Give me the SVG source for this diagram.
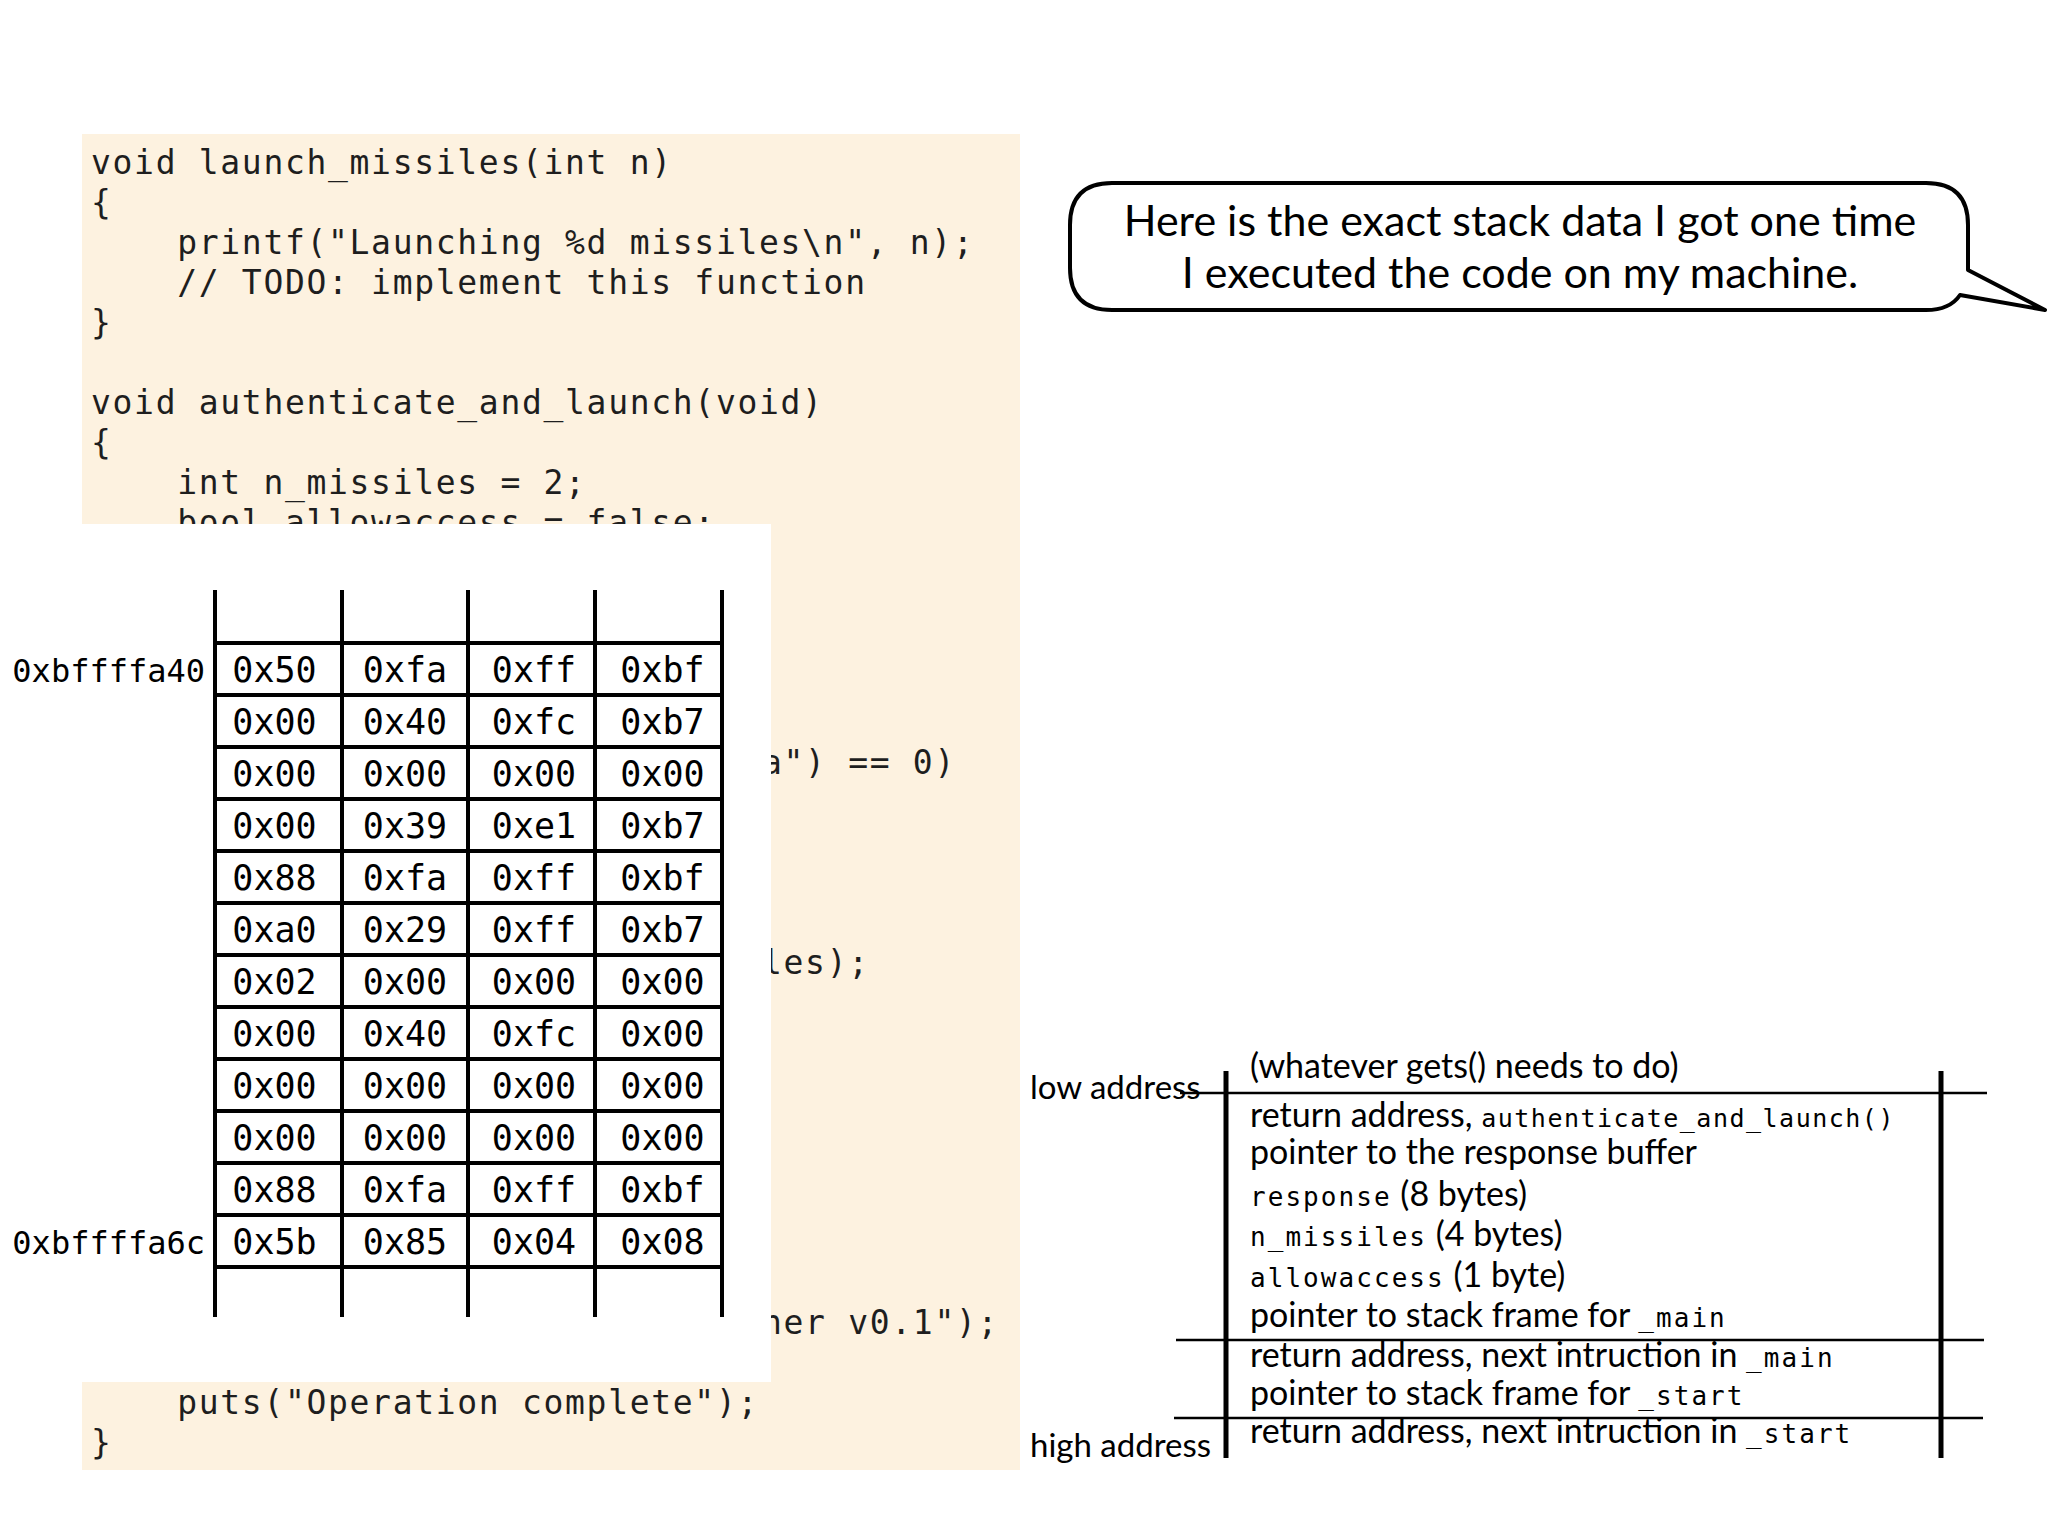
<svg xmlns="http://www.w3.org/2000/svg" width="2048" height="1536" viewBox="0 0 2048 1536">
<style>
.code{font-family:"DejaVu Sans Mono",monospace;font-size:33px;letter-spacing:1.68px;fill:#1e1e1e}
.cell{font-family:"DejaVu Sans Mono",monospace;font-size:35px;fill:#000;text-anchor:middle}
.addr{font-family:"DejaVu Sans Mono",monospace;font-size:32px;fill:#000;text-anchor:end}
.grid{stroke:#000;stroke-width:4;fill:none}
.bubble{fill:#fff;stroke:#000;stroke-width:4;stroke-linejoin:round}
.btxt{font-family:Lato,"Liberation Sans",sans-serif;font-size:43px;fill:#000;text-anchor:middle}
.stk{font-family:Lato,"Liberation Sans",sans-serif;font-size:34px;fill:#000}
.lbl{font-family:Lato,"Liberation Sans",sans-serif;font-size:33px;fill:#000}
.mono{font-family:"DejaVu Sans Mono",monospace;font-size:26px;letter-spacing:2.05px}
.mono2{font-family:"DejaVu Sans Mono",monospace;font-size:25px;letter-spacing:1.5px}
.vline{stroke:#000;stroke-width:5}
.hline{stroke:#000;stroke-width:2.5}
</style>
<rect width="2048" height="1536" fill="#fff"/>
<g id="code-panel">
<rect x="82" y="134" width="938" height="1336" fill="#FDF2E0"/>
<text class="code" x="91" y="174">void launch_missiles(int n)</text>
<text class="code" x="91" y="214">{</text>
<text class="code" x="177.2" y="254">printf("Launching %d missiles\n", n);</text>
<text class="code" x="177.2" y="294">// TODO: implement this function</text>
<text class="code" x="91" y="334">}</text>
<text class="code" x="91" y="414">void authenticate_and_launch(void)</text>
<text class="code" x="91" y="454">{</text>
<text class="code" x="177.2" y="494">int n_missiles = 2;</text>
<text class="code" x="177.2" y="534">bool allowaccess = false;</text>
<text class="code" x="762" y="774">a") == 0)</text>
<text class="code" x="762" y="974">les);</text>
<text class="code" x="762" y="1334">ner v0.1");</text>
<text class="code" x="177.2" y="1414">puts("Operation complete");</text>
<text class="code" x="91" y="1454">}</text>
</g>
<g id="memory-table">
<rect x="81" y="524" width="690" height="858" fill="#fff"/>
<g class="grid">
<path d="M215 590V1317M342 590V1317M468 590V1317M595 590V1317M722 590V1317"/>
<path d="M215 643H722M215 695H722M215 747H722M215 799H722M215 851H722M215 903H722M215 955H722M215 1007H722M215 1059H722M215 1111H722M215 1163H722M215 1215H722M215 1267H722"/>
</g>
<text class="addr" x="205" y="682">0xbffffa40</text>
<text class="addr" x="205" y="1254">0xbffffa6c</text>
<g id="row0"><text class="cell" x="274.5" y="681.5">0x50</text><text class="cell" x="405" y="681.5">0xfa</text><text class="cell" x="534" y="681.5">0xff</text><text class="cell" x="662.5" y="681.5">0xbf</text></g>
<g id="row1"><text class="cell" x="274.5" y="733.5">0x00</text><text class="cell" x="405" y="733.5">0x40</text><text class="cell" x="534" y="733.5">0xfc</text><text class="cell" x="662.5" y="733.5">0xb7</text></g>
<g id="row2"><text class="cell" x="274.5" y="785.5">0x00</text><text class="cell" x="405" y="785.5">0x00</text><text class="cell" x="534" y="785.5">0x00</text><text class="cell" x="662.5" y="785.5">0x00</text></g>
<g id="row3"><text class="cell" x="274.5" y="837.5">0x00</text><text class="cell" x="405" y="837.5">0x39</text><text class="cell" x="534" y="837.5">0xe1</text><text class="cell" x="662.5" y="837.5">0xb7</text></g>
<g id="row4"><text class="cell" x="274.5" y="889.5">0x88</text><text class="cell" x="405" y="889.5">0xfa</text><text class="cell" x="534" y="889.5">0xff</text><text class="cell" x="662.5" y="889.5">0xbf</text></g>
<g id="row5"><text class="cell" x="274.5" y="941.5">0xa0</text><text class="cell" x="405" y="941.5">0x29</text><text class="cell" x="534" y="941.5">0xff</text><text class="cell" x="662.5" y="941.5">0xb7</text></g>
<g id="row6"><text class="cell" x="274.5" y="993.5">0x02</text><text class="cell" x="405" y="993.5">0x00</text><text class="cell" x="534" y="993.5">0x00</text><text class="cell" x="662.5" y="993.5">0x00</text></g>
<g id="row7"><text class="cell" x="274.5" y="1045.5">0x00</text><text class="cell" x="405" y="1045.5">0x40</text><text class="cell" x="534" y="1045.5">0xfc</text><text class="cell" x="662.5" y="1045.5">0x00</text></g>
<g id="row8"><text class="cell" x="274.5" y="1097.5">0x00</text><text class="cell" x="405" y="1097.5">0x00</text><text class="cell" x="534" y="1097.5">0x00</text><text class="cell" x="662.5" y="1097.5">0x00</text></g>
<g id="row9"><text class="cell" x="274.5" y="1149.5">0x00</text><text class="cell" x="405" y="1149.5">0x00</text><text class="cell" x="534" y="1149.5">0x00</text><text class="cell" x="662.5" y="1149.5">0x00</text></g>
<g id="row10"><text class="cell" x="274.5" y="1201.5">0x88</text><text class="cell" x="405" y="1201.5">0xfa</text><text class="cell" x="534" y="1201.5">0xff</text><text class="cell" x="662.5" y="1201.5">0xbf</text></g>
<g id="row11"><text class="cell" x="274.5" y="1253.5">0x5b</text><text class="cell" x="405" y="1253.5">0x85</text><text class="cell" x="534" y="1253.5">0x04</text><text class="cell" x="662.5" y="1253.5">0x08</text></g>
</g>
<g id="speech-bubble">
<path class="bubble" d="M1112 183H1926Q1968 183 1968 225V270L2045 310L1960 295Q1950 310 1926 310H1112Q1070 310 1070 268V225Q1070 183 1112 183Z"/>
<text class="btxt" x="1520" y="236">Here is the exact stack data I got one time</text>
<text class="btxt" x="1520" y="288">I executed the code on my machine.</text>
</g>
<g id="stack-frames">
<g id="connectors">
<line class="vline" x1="1226" y1="1071" x2="1226" y2="1458"/>
<line class="vline" x1="1941" y1="1071" x2="1941" y2="1458"/>
<line class="hline" x1="1180" y1="1093" x2="1987" y2="1093"/>
<line class="hline" x1="1176" y1="1340" x2="1984" y2="1340"/>
<line class="hline" x1="1174" y1="1418" x2="1983" y2="1418"/>
</g>
<text class="lbl" x="1030" y="1099">low address</text>
<text class="lbl" x="1030" y="1457">high address</text>
<text class="stk" x="1250" y="1078">(whatever gets() needs to do)</text>
<text class="stk" x="1250" y="1127">return address, <tspan class="mono2">authenticate_and_launch()</tspan></text>
<text class="stk" x="1250" y="1164">pointer to the response buffer</text>
<text class="stk" x="1250" y="1206"><tspan class="mono">response</tspan> (8 bytes)</text>
<text class="stk" x="1250" y="1246"><tspan class="mono">n_missiles</tspan> (4 bytes)</text>
<text class="stk" x="1250" y="1287"><tspan class="mono">allowaccess</tspan> (1 byte)</text>
<text class="stk" x="1250" y="1327">pointer to stack frame for <tspan class="mono">_main</tspan></text>
<text class="stk" x="1250" y="1367">return address, next intruction in <tspan class="mono">_main</tspan></text>
<text class="stk" x="1250" y="1405">pointer to stack frame for <tspan class="mono">_start</tspan></text>
<text class="stk" x="1250" y="1443">return address, next intruction in <tspan class="mono">_start</tspan></text>
</g>
</svg>
